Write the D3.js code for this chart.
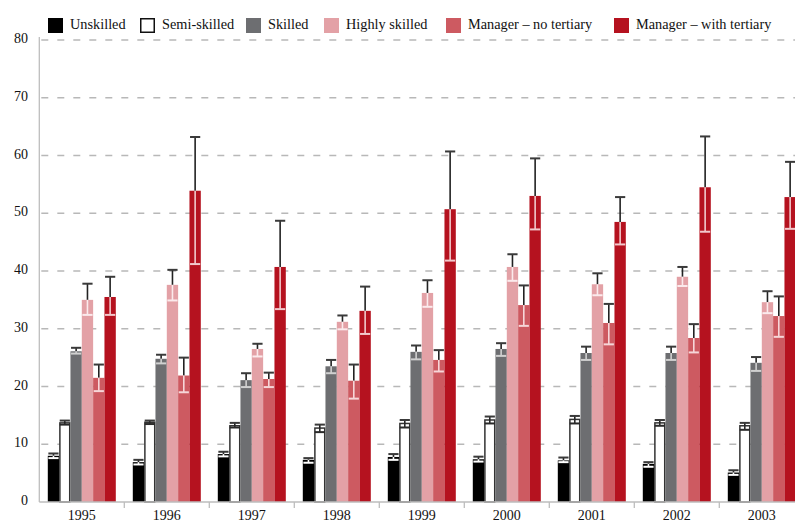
<!DOCTYPE html>
<html>
<head>
<meta charset="utf-8">
<script src="https://cdn.jsdelivr.net/npm/d3@7"></script>
<style>
  html, body { margin: 0; padding: 0; background: #fff; }
  svg { display: block; font-family: "Liberation Serif", "Times New Roman", serif; }
</style>
</head>
<body>
<svg id="chart" width="795" height="523"></svg>
<script>
// Survey years on the x axis
const years = ["1995", "1996", "1997", "1998", "1999", "2000", "2001", "2002", "2003"];

// Occupational groups (one bar per group and year)
const seriesNames = ["Unskilled", "Semi-skilled", "Skilled", "Highly skilled",
                     "Manager – no tertiary", "Manager – with tertiary"];
const seriesColors = ["#000000", "#ffffff", "#6d6e71", "#e3a1a6", "#cd5a61", "#b5121f"];

// Point estimates
const unskilled     = [8.0, 6.9, 8.3, 7.3, 7.8, 7.4, 7.2, 6.6, 5.1];
const semiSkilled   = [13.7, 13.8, 13.2, 12.8, 13.6, 14.2, 14.3, 13.7, 13.2];
const skilled       = [26.1, 24.8, 21.1, 23.5, 26.0, 26.5, 25.8, 25.8, 24.1];
const highlySkilled = [35.0, 37.6, 26.5, 31.2, 36.2, 40.7, 37.7, 39.0, 34.6];
const mgrNoTertiary = [21.5, 21.9, 21.3, 21.0, 24.6, 34.1, 31.0, 28.4, 32.2];
const mgrTertiary   = [35.5, 53.9, 40.7, 33.1, 50.7, 53.0, 48.5, 54.5, 52.8];

// Lower confidence bounds
const unskilledLo     = [7.6, 6.5, 7.9, 6.8, 7.3, 7.0, 6.9, 6.1, 4.7];
const semiSkilledLo   = [13.4, 13.5, 12.9, 12.1, 12.9, 13.6, 13.6, 13.2, 12.5];
const skilledLo       = [25.7, 24.0, 19.9, 22.3, 24.7, 25.3, 24.6, 24.6, 22.7];
const highlySkilledLo = [32.4, 34.9, 25.2, 29.9, 33.8, 38.3, 35.8, 37.4, 32.7];
const mgrNoTertiaryLo = [19.2, 19.0, 19.9, 17.9, 22.6, 30.5, 27.3, 25.9, 28.6];
const mgrTertiaryLo   = [32.4, 41.2, 33.4, 29.1, 41.8, 47.2, 44.6, 46.8, 47.3];

// Upper confidence bounds
const unskilledHi     = [8.4, 7.3, 8.7, 7.6, 8.3, 7.85, 7.7, 6.9, 5.5];
const semiSkilledHi   = [14.1, 14.1, 13.7, 13.4, 14.2, 14.8, 14.9, 14.2, 13.7];
const skilledHi       = [26.7, 25.5, 22.3, 24.6, 27.1, 27.5, 26.9, 26.9, 25.1];
const highlySkilledHi = [37.8, 40.2, 27.4, 32.3, 38.4, 42.9, 39.6, 40.7, 36.5];
const mgrNoTertiaryHi = [23.8, 25.0, 22.4, 23.8, 26.3, 37.5, 34.3, 30.8, 35.6];
const mgrTertiaryHi   = [39.0, 63.2, 48.7, 37.3, 60.7, 59.5, 52.8, 63.3, 58.9];

// Y axis ticks
const yTicks = [0, 10, 20, 30, 40, 50, 60, 70, 80];

const values = [unskilled, semiSkilled, skilled, highlySkilled, mgrNoTertiary, mgrTertiary];
const lows   = [unskilledLo, semiSkilledLo, skilledLo, highlySkilledLo, mgrNoTertiaryLo, mgrTertiaryLo];
const highs  = [unskilledHi, semiSkilledHi, skilledHi, highlySkilledHi, mgrNoTertiaryHi, mgrTertiaryHi];

// Colour of the part of each error bar that lies inside its bar
const innerErrColors = ["#ffffff", "#2a2a2a", "#d0d0d0", "#fbeaec", "#f6d6d8", "#f2c9cc"];

const svg = d3.select("#chart");
const plotLeft = 39.3, groupStep = 85, plotTop = 40, plotBottom = 502;

const x0 = d3.scaleBand().domain(years)
  .range([plotLeft, plotLeft + groupStep * years.length]).padding(0);
const x1 = d3.scaleBand().domain(d3.range(seriesNames.length))
  .range([0, x0.bandwidth()]).paddingInner(0).paddingOuter(0.75);
const y = d3.scaleLinear().domain([0, 80]).range([plotBottom, plotTop]);

// Dashed horizontal gridlines
svg.append("g").selectAll("line")
  .data(yTicks.filter(d => d > 0))
  .join("line")
  .attr("x1", plotLeft + 2).attr("x2", 795)
  .attr("y1", d => y(d)).attr("y2", d => y(d))
  .attr("stroke", "#b8b8b8").attr("stroke-width", 1.3)
  .attr("stroke-dasharray", "7,9");

// Y axis labels
svg.append("g").selectAll("text")
  .data(yTicks)
  .join("text")
  .attr("x", 28).attr("y", d => y(d))
  .attr("text-anchor", "end").attr("dominant-baseline", "middle")
  .attr("font-size", 14).attr("fill", "#111")
  .text(d => d);

// Y axis line
svg.append("line")
  .attr("x1", plotLeft).attr("x2", plotLeft).attr("y1", plotTop - 3).attr("y2", plotBottom)
  .attr("stroke", "#bdbdbd").attr("stroke-width", 1.3);

// Bars
const groups = svg.append("g").selectAll("g")
  .data(years)
  .join("g")
  .attr("transform", d => `translate(${x0(d)},0)`);

const cells = groups.selectAll("g")
  .data((d, i) => seriesNames.map((s, k) => ({
    k, v: values[k][i], lo: lows[k][i], hi: highs[k][i]
  })))
  .join("g");

cells.append("rect")
  .attr("x", d => x1(d.k) + (d.k === 1 ? 0.75 : 0))
  .attr("width", d => x1.bandwidth() - (d.k === 1 ? 1.5 : 0))
  .attr("y", d => y(d.v))
  .attr("height", d => y(0) - y(d.v))
  .attr("fill", d => seriesColors[d.k])
  .attr("stroke", d => d.k === 1 ? "#333" : "none")
  .attr("stroke-width", 1.5);

// Error bars: outer half dark, inner half light
const bw = x1.bandwidth();
const capW = bw * 0.9;
cells.append("line")
  .attr("x1", d => x1(d.k) + bw / 2).attr("x2", d => x1(d.k) + bw / 2)
  .attr("y1", d => y(d.v)).attr("y2", d => y(d.hi))
  .attr("stroke", "#222").attr("stroke-width", 1.6);
cells.append("line")
  .attr("x1", d => x1(d.k) + bw / 2 - capW / 2).attr("x2", d => x1(d.k) + bw / 2 + capW / 2)
  .attr("y1", d => y(d.hi)).attr("y2", d => y(d.hi))
  .attr("stroke", "#3a3a3a").attr("stroke-width", 2);
cells.append("line")
  .attr("x1", d => x1(d.k) + bw / 2).attr("x2", d => x1(d.k) + bw / 2)
  .attr("y1", d => y(d.lo)).attr("y2", d => y(d.v))
  .attr("stroke", d => innerErrColors[d.k]).attr("stroke-width", 1.6);
cells.append("line")
  .attr("x1", d => x1(d.k) + bw / 2 - capW / 2).attr("x2", d => x1(d.k) + bw / 2 + capW / 2)
  .attr("y1", d => y(d.lo)).attr("y2", d => y(d.lo))
  .attr("stroke", d => innerErrColors[d.k]).attr("stroke-width", 2);

// X axis baseline and separators between years
svg.append("line")
  .attr("x1", plotLeft).attr("x2", 795).attr("y1", plotBottom).attr("y2", plotBottom)
  .attr("stroke", "#bdbdbd").attr("stroke-width", 1.3);
svg.append("g").selectAll("line")
  .data(years.slice(1))
  .join("line")
  .attr("x1", d => x0(d)).attr("x2", d => x0(d))
  .attr("y1", plotBottom).attr("y2", plotBottom + 6)
  .attr("stroke", "#bdbdbd").attr("stroke-width", 1.3);

// Year labels
svg.append("g").selectAll("text")
  .data(years)
  .join("text")
  .attr("x", d => x0(d) + x0.bandwidth() / 2).attr("y", 520)
  .attr("text-anchor", "middle")
  .attr("font-size", 14).attr("fill", "#111")
  .text(d => d);

// Legend
const legendX = [48, 140, 246, 324, 446, 614];
const legend = svg.append("g").selectAll("g")
  .data(seriesNames)
  .join("g")
  .attr("transform", (d, i) => `translate(${legendX[i]},18)`);
legend.append("rect")
  .attr("x", (d, i) => i === 1 ? 0.75 : 0).attr("y", (d, i) => i === 1 ? 0.75 : 0)
  .attr("width", (d, i) => i === 1 ? 13.5 : 15).attr("height", (d, i) => i === 1 ? 13.5 : 15)
  .attr("fill", (d, i) => seriesColors[i])
  .attr("stroke", (d, i) => i === 1 ? "#111" : "none").attr("stroke-width", 1.5);
legend.append("text")
  .attr("x", 22).attr("y", 7.5)
  .attr("dominant-baseline", "middle")
  .attr("font-size", 14.3).attr("fill", "#111")
  .text(d => d);
</script>
</body>
</html>
